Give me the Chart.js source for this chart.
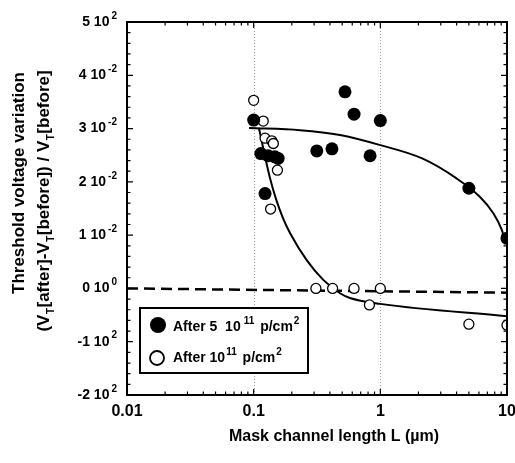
<!DOCTYPE html>
<html>
<head>
<meta charset="utf-8">
<title>Threshold voltage variation</title>
<script src="https://cdn.jsdelivr.net/npm/chart.js@4"></script>
<style>
  html, body { margin: 0; padding: 0; background: #fff; }
  canvas { display: block; }
</style>
</head>
<body>
<canvas id="vtChart" width="515" height="463"></canvas>
<script>
'use strict';

// Data
const filledL = [0.1, 0.114, 0.13, 0.147, 0.156, 0.123, 0.315, 0.415, 0.526, 0.62, 0.83, 1.0, 5, 10];
const filledV = [0.0316, 0.0253, 0.0249, 0.0247, 0.0244, 0.0178, 0.0258, 0.0262, 0.0369, 0.0327, 0.0249, 0.0315, 0.0188, 0.0094];

const openL = [0.1, 0.119, 0.123, 0.139, 0.143, 0.154, 0.136, 0.31, 0.42, 0.62, 1.0, 0.82, 5, 10];
const openV = [0.0353, 0.0314, 0.0282, 0.0277, 0.0272, 0.0222, 0.0149, 0, 0, 0, 0, -0.0031, -0.0067, -0.0069];

// fitted curves
const filledFitL = [0.092, 0.232, 0.48, 1.0, 2.14, 3.97, 6.1, 7.8, 9.1, 9.6, 10];
const filledFitV = [0.0301, 0.0297, 0.0288, 0.0269, 0.0244, 0.0207, 0.0172, 0.0141, 0.011, 0.0092, 0.0085];

const openFitL = [0.11, 0.1207, 0.1346, 0.150, 0.1704, 0.1936, 0.2622, 0.3545, 0.4804, 0.576, 1.0, 10];
const openFitV = [0.0301, 0.0256, 0.0207, 0.0168, 0.0132, 0.0104, 0.0053, 0.0016, -0.0009, -0.0018, -0.0029, -0.0052];

const zeroLineL = [0.01, 10];
const zeroLineV = [0, -0.0008];

// axis ticks and labels
const xTicks = [0.01, 0.1, 1, 10];
const xTickLabels = ['0.01', '0.1', '1', '10'];
const xGridAt = [0.1, 1];
const yTicks = [-0.02, -0.01, 0, 0.01, 0.02, 0.03, 0.04, 0.05];
const yTickMant = ['-2 10', '-1 10', '0 10', '1 10', '2 10', '3 10', '4 10', '5 10'];
const yTickExp = ['2', '2', '0', '-2', '-2', '-2', '-2', '2'];

const FONT = '"Liberation Sans", Arial, Helvetica, sans-serif';

function toPoints(xs, ys) {
  return xs.map((x, i) => ({ x: x, y: ys[i] }));
}

// draw "main" then a raised small part, return end x
function drawSup(ctx, text, sup, x, y, size, supSize, rise, gap) {
  ctx.font = 'bold ' + size + 'px ' + FONT;
  ctx.fillText(text, x, y);
  let w = ctx.measureText(text).width;
  ctx.font = 'bold ' + supSize + 'px ' + FONT;
  ctx.fillText(sup, x + w + gap, y - rise);
  return x + w + gap + ctx.measureText(sup).width;
}

function supWidth(ctx, text, sup, size, supSize, gap) {
  ctx.font = 'bold ' + size + 'px ' + FONT;
  let w = ctx.measureText(text).width;
  ctx.font = 'bold ' + supSize + 'px ' + FONT;
  return w + gap + ctx.measureText(sup).width;
}

// Frame, ticks, labels, titles, legend
const decorPlugin = {
  id: 'decor',
  beforeDatasetsDraw(chart) {
    const ctx = chart.ctx;
    const xs = chart.scales.x;
    const a = chart.chartArea;
    ctx.save();
    ctx.strokeStyle = '#999';
    ctx.lineWidth = 1;
    ctx.setLineDash([1, 2]);
    for (let g of xGridAt) {
      let px = Math.round(xs.getPixelForValue(g)) + 0.5;
      ctx.beginPath();
      ctx.moveTo(px, a.top);
      ctx.lineTo(px, a.bottom);
      ctx.stroke();
    }
    ctx.restore();
  },
  afterDatasetsDraw(chart) {
    const ctx = chart.ctx;
    const xs = chart.scales.x;
    const ys = chart.scales.y;
    const a = chart.chartArea;
    ctx.save();
    ctx.strokeStyle = '#000';
    ctx.fillStyle = '#000';

    // frame
    ctx.lineWidth = 2;
    ctx.strokeRect(a.left, a.top, a.right - a.left, a.bottom - a.top);

    // x ticks, inward, top and bottom
    ctx.lineWidth = 1.2;
    for (let d = 0.01; d < 10.5; d *= 10) {
      for (let m = 1; m <= 9; m++) {
        let v = d * m;
        if (v > 10.001) break;
        let px = xs.getPixelForValue(v);
        let len = m === 1 ? 6 : 3.5;
        ctx.beginPath();
        ctx.moveTo(px, a.bottom);
        ctx.lineTo(px, a.bottom - len);
        ctx.moveTo(px, a.top);
        ctx.lineTo(px, a.top + len);
        ctx.stroke();
      }
    }
    // y ticks, inward, left and right
    for (let i = 0; i <= 35; i++) {
      let v = -0.02 + i * 0.002;
      let py = ys.getPixelForValue(v);
      let len = i % 5 === 0 ? 6 : 3.5;
      ctx.beginPath();
      ctx.moveTo(a.left, py);
      ctx.lineTo(a.left + len, py);
      ctx.moveTo(a.right, py);
      ctx.lineTo(a.right - len, py);
      ctx.stroke();
    }

    // y tick labels
    ctx.textBaseline = 'middle';
    ctx.textAlign = 'left';
    for (let i = 0; i < yTicks.length; i++) {
      let py = ys.getPixelForValue(yTicks[i]);
      let w = supWidth(ctx, yTickMant[i], yTickExp[i], 14, 10, 2);
      drawSup(ctx, yTickMant[i], yTickExp[i], 117 - w, py, 14, 10, 6, 2);
    }

    // x tick labels
    ctx.textAlign = 'center';
    ctx.font = 'bold 16px ' + FONT;
    for (let i = 0; i < xTicks.length; i++) {
      ctx.fillText(xTickLabels[i], xs.getPixelForValue(xTicks[i]), 412);
    }

    // x title
    ctx.font = 'bold 16px ' + FONT;
    ctx.fillText('Mask channel length L (\u00b5m)', 334, 437);

    // y title, two rotated lines
    ctx.save();
    ctx.translate(19, 183);
    ctx.rotate(-Math.PI / 2);
    ctx.textAlign = 'center';
    ctx.font = 'bold 17px ' + FONT;
    ctx.fillText('Threshold voltage variation', 0, 0);
    ctx.restore();

    ctx.save();
    ctx.translate(44, 201);
    ctx.rotate(-Math.PI / 2);
    ctx.textAlign = 'left';
    const parts = [['(V', 'T', '[after]-V'], ['', 'T', '[before]) / V'], ['', 'T', '[before]']];
    let total = 0;
    for (let p of parts) {
      ctx.font = 'bold 17px ' + FONT;
      total += ctx.measureText(p[0]).width + ctx.measureText(p[2]).width;
      ctx.font = 'bold 10px ' + FONT;
      total += ctx.measureText(p[1]).width + 1;
    }
    let cx = -total / 2;
    for (let p of parts) {
      ctx.font = 'bold 17px ' + FONT;
      ctx.fillText(p[0], cx, 0);
      cx += ctx.measureText(p[0]).width;
      ctx.font = 'bold 10px ' + FONT;
      ctx.fillText(p[1], cx + 0.5, 7);
      cx += ctx.measureText(p[1]).width + 1;
      ctx.font = 'bold 17px ' + FONT;
      ctx.fillText(p[2], cx, 0);
      cx += ctx.measureText(p[2]).width;
    }
    ctx.restore();

    // legend
    ctx.fillStyle = '#fff';
    ctx.fillRect(140, 308, 168, 65);
    ctx.fillStyle = '#000';
    ctx.lineWidth = 2;
    ctx.strokeRect(140, 308, 168, 65);
    ctx.beginPath();
    ctx.arc(158, 325, 8, 0, Math.PI * 2);
    ctx.fill();
    ctx.beginPath();
    ctx.lineWidth = 1.8;
    ctx.arc(157, 358, 7, 0, Math.PI * 2);
    ctx.stroke();
    ctx.textAlign = 'left';
    ctx.textBaseline = 'middle';
    let ex = drawSup(ctx, 'After 5  10', '11', 173, 327, 14, 10, 6, 3);
    drawSup(ctx, ' p/cm', '2', ex + 2, 327, 14, 10, 6, 1);
    ex = drawSup(ctx, 'After 10', '11', 173, 358, 14, 10, 6, 1);
    drawSup(ctx, ' p/cm', '2', ex + 2, 358, 14, 10, 6, 1);

    ctx.restore();
  }
};

// Chart
const ctx = document.getElementById('vtChart').getContext('2d');

const vtChart = new Chart(ctx, {
  type: 'scatter',
  data: {
    datasets: [{
      label: 'After 5 10^11 p/cm^2',
      data: toPoints(filledL, filledV),
      pointRadius: 6.5,
      pointBackgroundColor: '#000',
      pointBorderColor: '#000',
      pointBorderWidth: 0,
      showLine: false,
      order: 0
    }, {
      label: 'After 10^11 p/cm^2',
      data: toPoints(openL, openV),
      pointRadius: 5,
      pointBackgroundColor: '#fff',
      pointBorderColor: '#000',
      pointBorderWidth: 1.3,
      showLine: false,
      order: 1
    }, {
      label: 'fit 5e11',
      data: toPoints(filledFitL, filledFitV),
      showLine: true,
      pointRadius: 0,
      borderColor: '#000',
      borderWidth: 2,
      cubicInterpolationMode: 'monotone',
      order: 3
    }, {
      label: 'fit 1e11',
      data: toPoints(openFitL, openFitV),
      showLine: true,
      pointRadius: 0,
      borderColor: '#000',
      borderWidth: 2,
      cubicInterpolationMode: 'monotone',
      order: 4
    }, {
      label: 'zero',
      data: toPoints(zeroLineL, zeroLineV),
      showLine: true,
      pointRadius: 0,
      borderColor: '#000',
      borderWidth: 2.5,
      borderDash: [11, 6],
      order: 5
    }]
  },
  options: {
    responsive: false,
    animation: false,
    devicePixelRatio: 1,
    layout: {
      padding: { left: 127, right: 8, top: 22, bottom: 68 }
    },
    plugins: {
      legend: { display: false },
      tooltip: { enabled: false }
    },
    scales: {
      x: {
        type: 'logarithmic',
        min: 0.01,
        max: 10,
        display: false
      },
      y: {
        type: 'linear',
        min: -0.02,
        max: 0.05,
        display: false
      }
    }
  },
  plugins: [decorPlugin]
});
</script>
</body>
</html>
